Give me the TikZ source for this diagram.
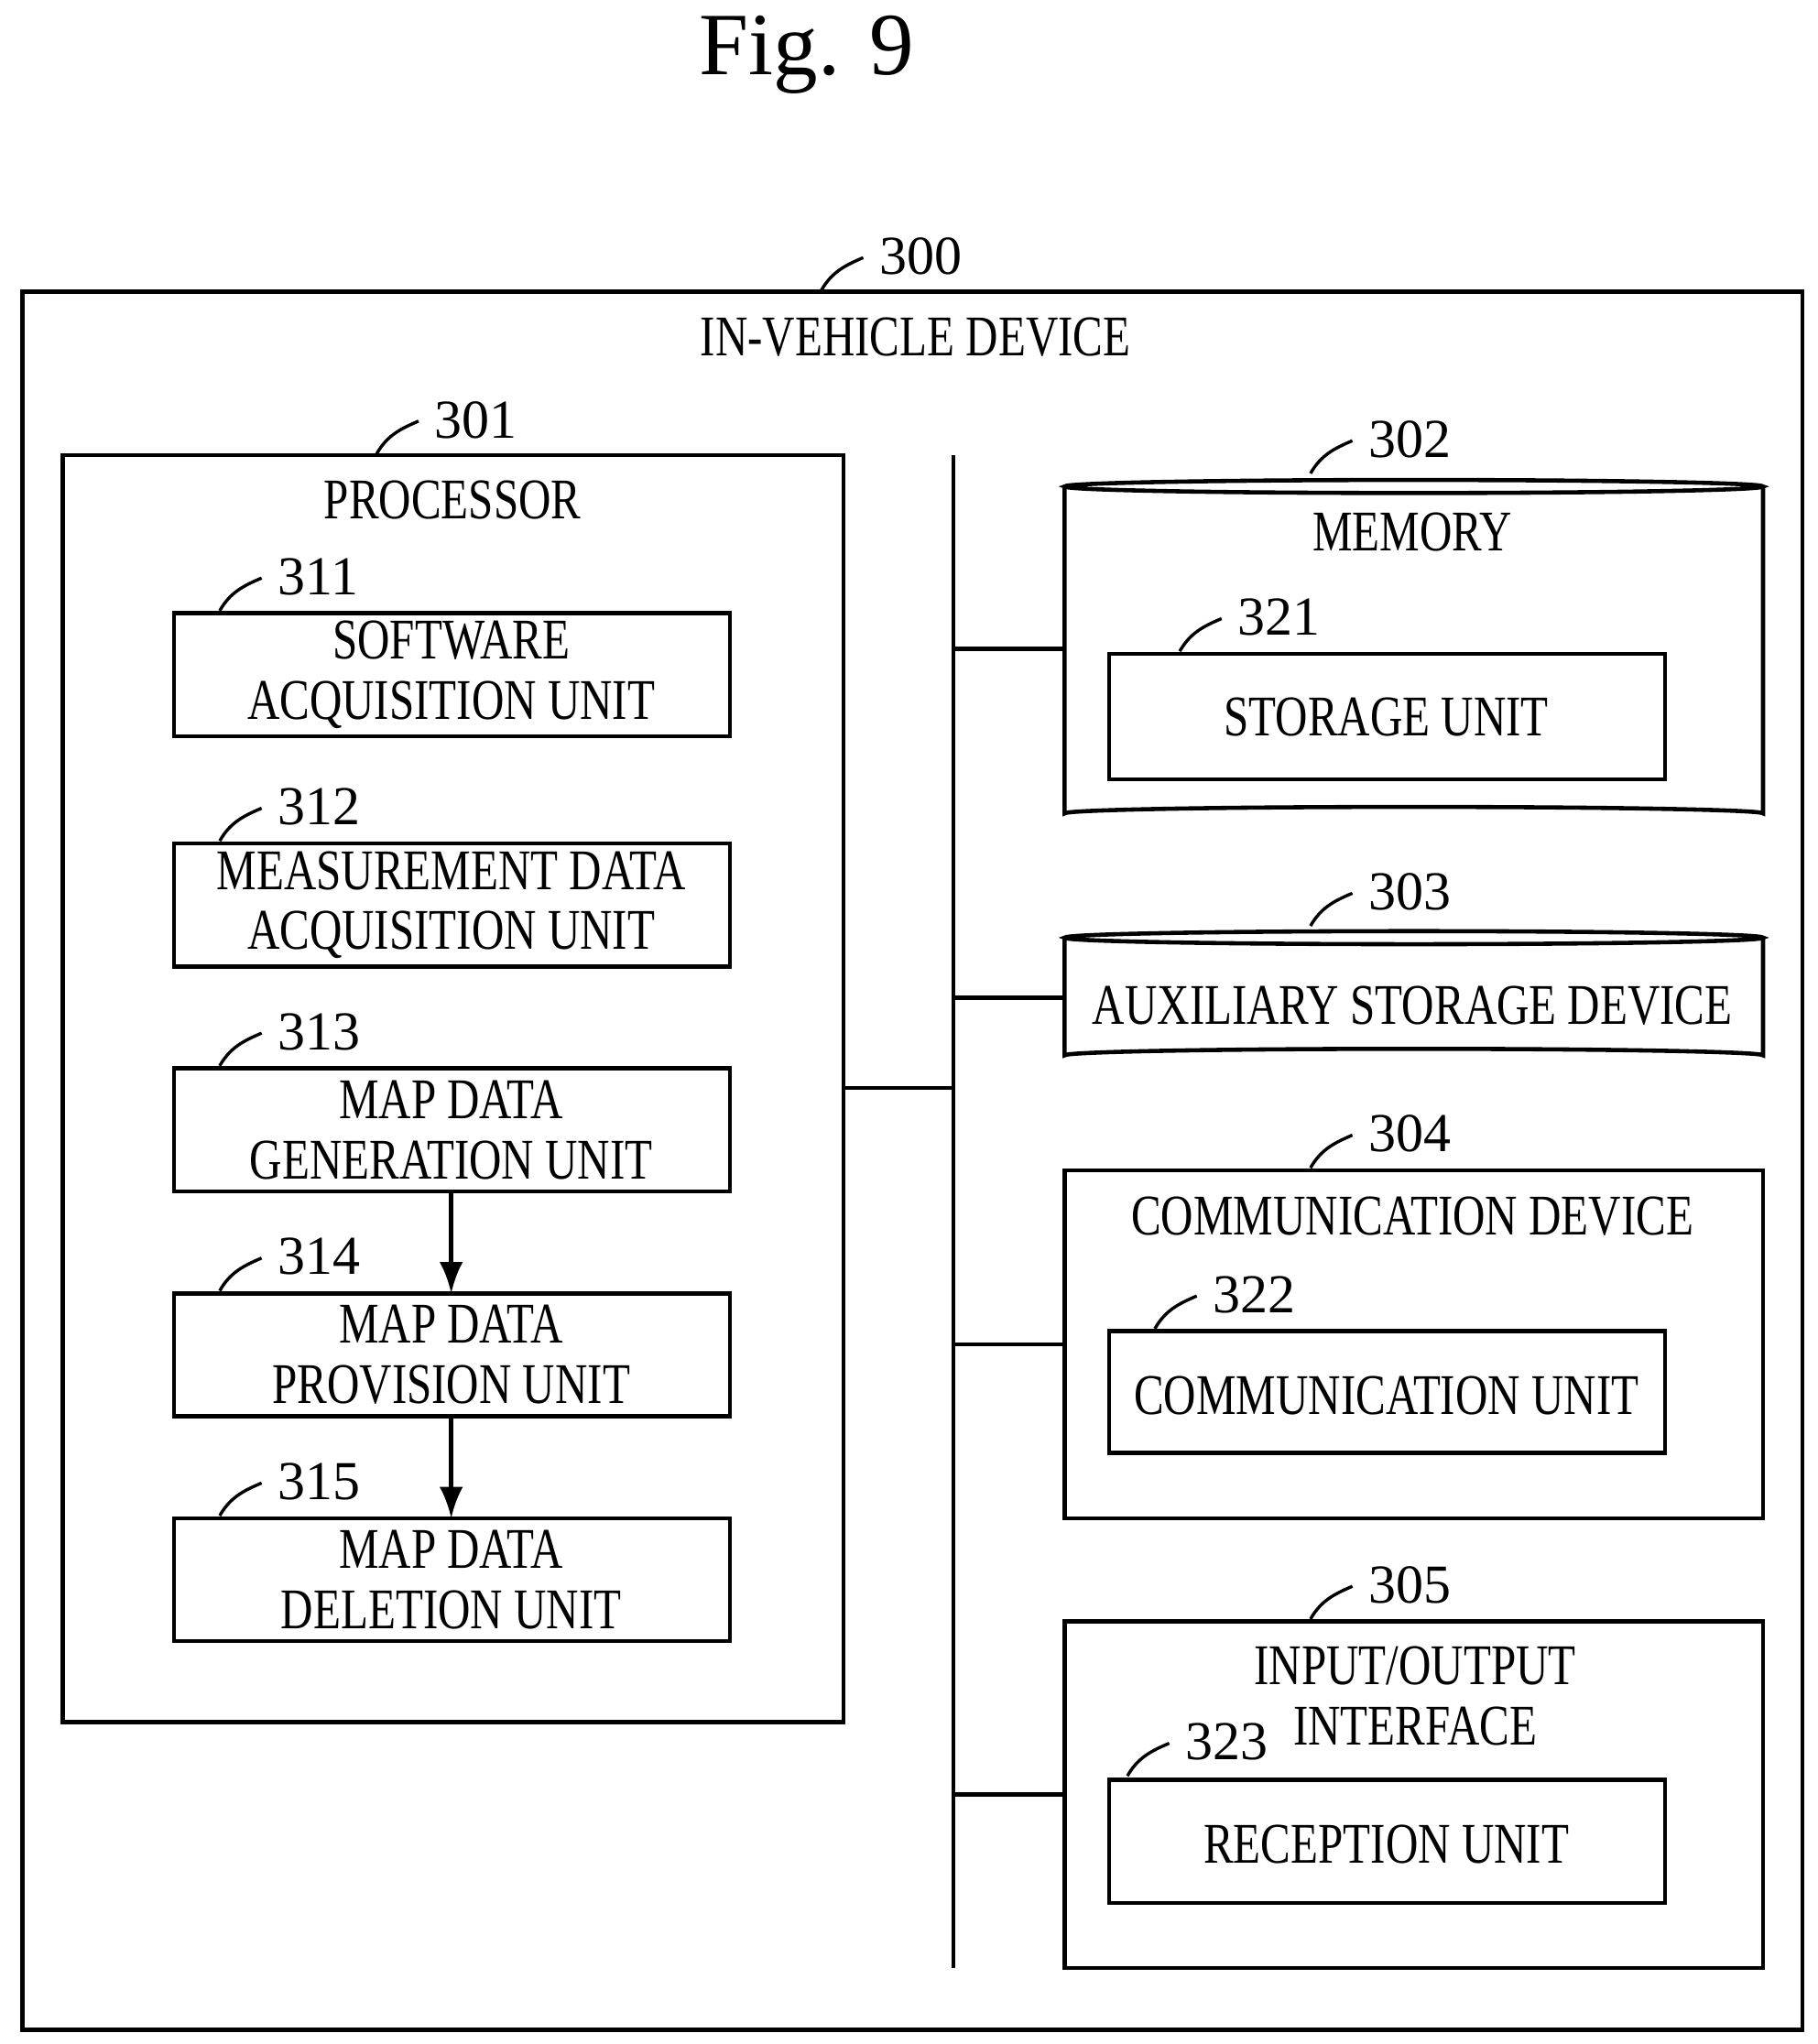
\documentclass[tikz,border=0pt]{standalone}
\usepackage{fontspec}
\setmainfont{Liberation Serif}
\usetikzlibrary{arrows.meta}
\newcommand\nx[1]{\scalebox{0.78}[1]{#1}}
\newcommand\refnum[4]{\draw[line width=1.2pt] (#2,#3) .. controls +(8,-14) and +(-14,6) .. +(32,-25);
  \node[num,anchor=west] (#1) at (#2+44,#3-26) {#4};}
\begin{document}
\begin{tikzpicture}[x=0.5pt,y=-0.5pt,
  box/.style={draw,line width=1.6pt},
  txt/.style={font=\fontsize{22}{23}\selectfont,align=center,inner sep=0},
  num/.style={font=\fontsize{21}{24}\selectfont,inner sep=0},
  ln/.style={line width=1.6pt}]
\useasboundingbox (0,0) rectangle (1390,1563);
\node[font=\fontsize{34}{40}\selectfont] (title) at (617,42) {Fig. 9};
% outer
\draw[box] (17,223) rectangle (1378,1552);
\refnum{n300}{628}{222}{300}
\node[txt] (ivd) at (700,258) {\nx{IN-VEHICLE DEVICE}};
% processor
\draw[box] (48,348) rectangle (645,1317);
\coordinate (procR) at (645,832);
\refnum{n301}{288}{347}{301}
\node[txt] (proc) at (346,382) {\nx{PROCESSOR}};
\foreach \n/\y/\a/\b in {311/469/SOFTWARE/ACQUISITION UNIT,312/645/MEASUREMENT DATA/ACQUISITION UNIT,313/817/MAP DATA/GENERATION UNIT,314/989/MAP DATA/PROVISION UNIT,315/1161/MAP DATA/DELETION UNIT}{
  \draw[box] (133,\y) rectangle (558,\y+94);
  \node[txt] (u\n) at (345,\y+47) {\nx{\a}\\\nx{\b}};
  \refnum{n\n}{168}{\y-2}{\n}
}
\coordinate (a1) at (345,911); \coordinate (b1) at (345,989);
\coordinate (a2) at (345,1083); \coordinate (b2) at (345,1161);
\draw[ln,-{Latex[length=12pt,width=9pt]}] (a1) -- (b1);
\draw[ln,-{Latex[length=12pt,width=9pt]}] (a2) -- (b2);
% bus
\coordinate (busT) at (729,348); \coordinate (busB) at (729,1505);
\draw[ln] (busT) -- (busB);
\draw[ln] (procR) -- (729,832);
% memory
\draw[box] (814,372) -- (814,622) arc[start angle=180,end angle=360,x radius=267,y radius=5] -- (1348,372);
\draw[box] (1081,372) ellipse[x radius=267,y radius=5];
\refnum{n302}{1002}{362}{302}
\node[txt] (mem) at (1080,407) {\nx{MEMORY}};
\draw[box] (848,500) rectangle (1273,596);
\node[txt] (su) at (1060,548) {\nx{STORAGE UNIT}};
\refnum{n321}{902}{498}{321}
\draw[ln] (729,496) -- (814,496);
% aux
\draw[box] (814,717) -- (814,807) arc[start angle=180,end angle=360,x radius=267,y radius=5] -- (1348,717);
\draw[box] (1081,717) ellipse[x radius=267,y radius=5];
\refnum{n303}{1002}{708}{303}
\node[txt] (aux) at (1080,769) {\nx{AUXILIARY STORAGE DEVICE}};
\draw[ln] (729,763) -- (814,763);
% comm
\draw[box] (814,895) rectangle (1348,1161);
\refnum{n304}{1002}{893}{304}
\node[txt] (cd) at (1080,930) {\nx{COMMUNICATION DEVICE}};
\draw[box] (848,1018) rectangle (1273,1111);
\node[txt] (cu) at (1060,1067) {\nx{COMMUNICATION UNIT}};
\refnum{n322}{883}{1016}{322}
\draw[ln] (729,1028) -- (814,1028);
% io
\draw[box] (814,1240) rectangle (1348,1505);
\refnum{n305}{1002}{1238}{305}
\node[txt] (io) at (1082,1297) {\nx{INPUT/OUTPUT}\\\nx{INTERFACE}};
\draw[box] (848,1361) rectangle (1273,1455);
\node[txt] (ru) at (1060,1410) {\nx{RECEPTION UNIT}};
\refnum{n323}{862}{1358}{323}
\draw[ln] (729,1372) -- (814,1372);
\end{tikzpicture}
\end{document}
